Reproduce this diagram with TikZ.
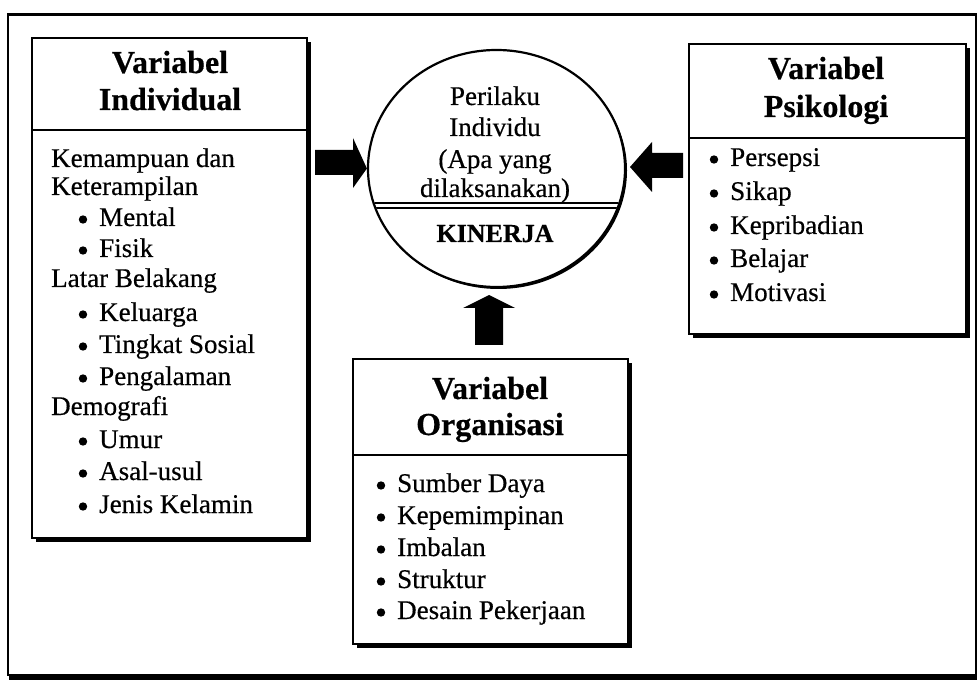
\documentclass[tikz,border=0pt]{standalone}
\usepackage{fontspec}
\setmainfont{Liberation Serif}[FakeBold=0.5]
\usetikzlibrary{shapes.geometric,shadows}
\newcommand\itm[4]{\node[txt] (#1) at (#2,#3) {#4};
  \fill[black] ([xshift=-16pt, yshift=6.5pt]#1.base west) circle (4.2pt);}
\begin{document}
\begin{tikzpicture}[x=1pt,y=-1pt,
  panel/.style={draw=black, line width=2.4pt, fill=white, inner sep=0pt, anchor=north west,
     drop shadow={shadow xshift=3.5pt, shadow yshift=-3.5pt, opacity=1, fill=black}},
  hdr/.style={anchor=base, inner sep=0pt, font=\fontsize{32}{37}\selectfont\bfseries},
  txt/.style={anchor=base west, inner sep=0pt, font=\fontsize{27}{31}\selectfont},
  ctxt/.style={anchor=base, inner sep=0pt, font=\fontsize{27}{31}\selectfont},
  divider/.style={line width=2pt},
  blockarrow/.style={fill=black}
]
\useasboundingbox (0,0) rectangle (977,684);
\fill[white] (0,0) rectangle (977,684);

% outer frame
\node[draw=black, line width=2.4pt, inner sep=0pt, anchor=north west,
      minimum width=968pt, minimum height=660pt] (frame) at (7,13.5) {};
\fill[black] ([xshift=2pt]frame.south west) rectangle ([yshift=-4pt]frame.south east);

% left box
\node[panel, minimum width=275pt, minimum height=500pt] (L) at (31,37) {};
\draw[divider] (L.west |- 0,130) -- (L.east |- 0,130);
\node[hdr] (Lh1) at (170,73) {Variabel};
\node[hdr] (Lh2) at (170,110) {Individual};
\node[txt] (l1)  at (51,167) {Kemampuan dan};
\node[txt] (l2)  at (51,195) {Keterampilan};
\itm{l3}{99}{226}{Mental}
\itm{l4}{99}{257}{Fisik}
\node[txt] (l5)  at (51,287) {Latar Belakang};
\itm{l6}{99}{321}{Keluarga}
\itm{l7}{99}{353}{Tingkat Sosial}
\itm{l8}{99}{385}{Pengalaman}
\node[txt] (l9)  at (51,415) {Demografi};
\itm{l10}{99}{448}{Umur}
\itm{l11}{99}{480}{Asal-usul}
\itm{l12}{99}{513}{Jenis Kelamin}

% right box
\node[panel, minimum width=277pt, minimum height=290pt] (R) at (688,43) {};
\draw[divider] (R.west |- 0,138) -- (R.east |- 0,138);
\node[hdr] (Rh1) at (826,79) {Variabel};
\node[hdr] (Rh2) at (826,117) {Psikologi};
\itm{r1}{730}{166}{Persepsi}
\itm{r2}{730}{200}{Sikap}
\itm{r3}{730}{234}{Kepribadian}
\itm{r4}{730}{267}{Belajar}
\itm{r5}{730}{301}{Motivasi}

% bottom box
\node[panel, minimum width=275pt, minimum height=285pt] (B) at (352,358) {};
\draw[divider] (B.west |- 0,455) -- (B.east |- 0,455);
\node[hdr] (Bh1) at (490,399) {Variabel};
\node[hdr] (Bh2) at (490,435) {Organisasi};
\itm{b1}{397}{492}{Sumber Daya}
\itm{b2}{397}{524}{Kepemimpinan}
\itm{b3}{397}{556}{Imbalan}
\itm{b4}{397}{588}{Struktur}
\itm{b5}{397}{619}{Desain Pekerjaan}

% central circle
\node[ellipse, draw=black, line width=2.2pt, fill=white, inner sep=0pt,
      minimum width=257pt, minimum height=237pt,
      drop shadow={shadow xshift=2pt, shadow yshift=-2pt, opacity=1, fill=black}] (C) at (496.5,168.5) {};
\begin{scope}
  \clip (C.center) ellipse [x radius=127.5, y radius=117.5];
  \draw[line width=1.3pt] (360,203) -- (640,203);
  \draw[line width=1.6pt] (360,208) -- (640,208);
\end{scope}
\node[ctxt] (c1) at (495,105) {Perilaku};
\node[ctxt] (c2) at (495,136) {Individu};
\node[ctxt] (c3) at (495,168) {(Apa yang};
\node[ctxt] (c4) at (495,197) {dilaksanakan)};
\node[ctxt, font=\fontsize{26}{30}\selectfont\bfseries] (c5) at (495,242) {KINERJA};

% block arrows
\fill[blockarrow] (315,150) -- (353,150) -- (353,138) -- (C.west) -- (353,188) -- (353,175) -- (315,175) -- cycle;
\fill[blockarrow] (683,153) -- (652,153) -- (652,142) -- (630,167) -- (652,192) -- (652,178) -- (683,178) -- cycle;
\fill[blockarrow] (475,345) -- (475,308) -- (463,308) -- (489,295) -- (515,308) -- (503,308) -- (503,345) -- cycle;
\end{tikzpicture}
\end{document}
